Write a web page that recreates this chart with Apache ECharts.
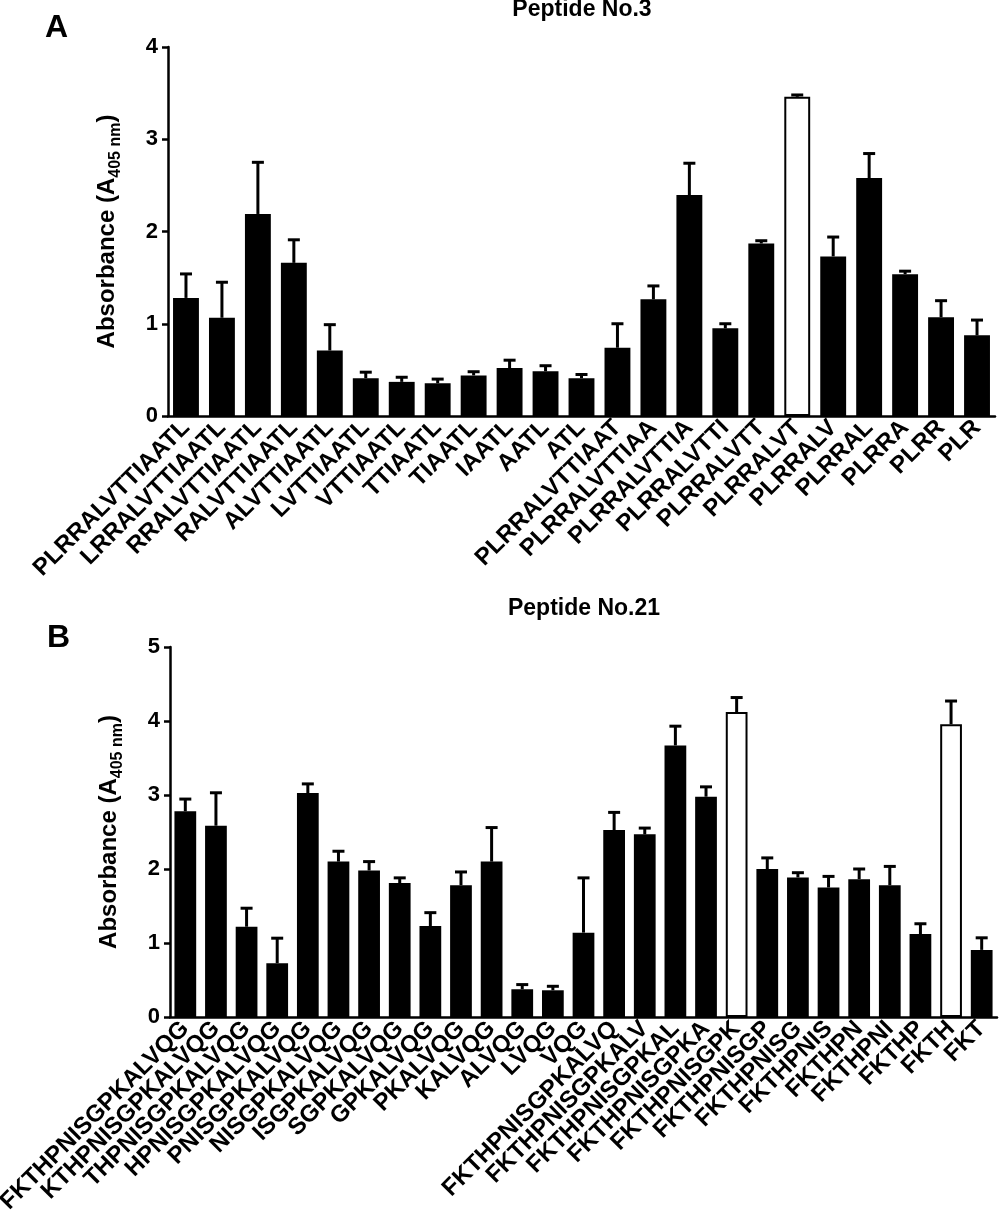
<!DOCTYPE html>
<html lang="en">
<head>
    <meta charset="UTF-8">
    <title>Peptide absorbance</title>
    <script src="https://cdn.jsdelivr.net/npm/echarts@6.0.0/dist/echarts.min.js"></script>
    <style>
        html, body { margin: 0; padding: 0; background: #fff; }
        #chart { width: 1000px; height: 1221px; }
    </style>
</head>
<body>
    <div id="chart"></div>
    <script>
        // Panel A - Peptide No.3
        const labelsA = ['PLRRALVTTIAATL', 'LRRALVTTIAATL', 'RRALVTTIAATL', 'RALVTTIAATL', 'ALVTTIAATL',
            'LVTTIAATL', 'VTTIAATL', 'TTIAATL', 'TIAATL', 'IAATL', 'AATL', 'ATL',
            'PLRRALVTTIAAT', 'PLRRALVTTIAA', 'PLRRALVTTIA', 'PLRRALVTTI', 'PLRRALVTT', 'PLRRALVT',
            'PLRRALV', 'PLRRAL', 'PLRRA', 'PLRR', 'PLR'];
        const meanA = [1.28, 1.065, 2.19, 1.66, 0.71, 0.41, 0.37, 0.355, 0.44, 0.52, 0.485, 0.41,
            0.74, 1.265, 2.395, 0.95, 1.87, 3.46, 1.73, 2.58, 1.537, 1.07, 0.874];
        const sdA = [0.26, 0.385, 0.56, 0.25, 0.28, 0.065, 0.05, 0.045, 0.04, 0.085, 0.06, 0.04,
            0.26, 0.145, 0.345, 0.05, 0.03, 0.02, 0.21, 0.265, 0.033, 0.18, 0.166];
        const openA = ['PLRRALVT'];

        // Panel B - Peptide No.21
        const labelsB = ['FKTHPNISGPKALVQG', 'KTHPNISGPKALVQG', 'THPNISGPKALVQG', 'HPNISGPKALVQG',
            'PNISGPKALVQG', 'NISGPKALVQG', 'ISGPKALVQG', 'SGPKALVQG', 'GPKALVQG', 'PKALVQG',
            'KALVQG', 'ALVQG', 'LVQG', 'VQG', 'FKTHPNISGPKALVQ', 'FKTHPNISGPKALV', 'FKTHPNISGPKAL',
            'FKTHPNISGPKA', 'FKTHPNISGPK', 'FKTHPNISGP', 'FKTHPNISG', 'FKTHPNIS', 'FKTHPN',
            'FKTHPNI', 'FKTHP', 'FKTH', 'FKT'];
        const meanB = [2.78, 2.585, 1.22, 0.727, 3.027, 2.10, 1.98, 1.81, 1.23, 1.78, 2.10, 0.375,
            0.361, 1.14, 2.526, 2.468, 3.67, 2.977, 4.12, 2.0, 1.886, 1.75, 1.863, 1.78, 1.12, 3.956, 0.907];
        const sdB = [0.165, 0.445, 0.25, 0.338, 0.123, 0.14, 0.12, 0.07, 0.18, 0.18, 0.46, 0.063,
            0.054, 0.74, 0.239, 0.085, 0.26, 0.133, 0.197, 0.15, 0.064, 0.15, 0.137, 0.255, 0.14, 0.314, 0.163];
        const openB = ['FKTHPNISGPK', 'FKTH'];

        const FONT = 'Arial, "Liberation Sans", sans-serif';
        const chart = echarts.init(document.getElementById('chart'));

        function barData(labels, means, open) {
            return means.map((v, i) => ({
                value: v,
                itemStyle: open.includes(labels[i])
                    ? { color: '#fff', borderColor: '#000', borderWidth: 2 }
                    : { color: '#000', borderColor: '#000', borderWidth: 0 }
            }));
        }

        // error bar: only the upper half, with a cap
        function renderErr(params, api) {
            const idx = api.value(0);
            const p0 = api.coord([idx, api.value(1)]);
            const p1 = api.coord([idx, api.value(1) + api.value(2)]);
            const half = 6;
            const st = { stroke: '#000', lineWidth: 3 };
            return {
                type: 'group',
                children: [
                    { type: 'line', shape: { x1: p0[0], y1: p0[1], x2: p1[0], y2: p1[1] }, style: st },
                    { type: 'line', shape: { x1: p1[0] - half, y1: p1[1], x2: p1[0] + half, y2: p1[1] }, style: st }
                ]
            };
        }

        function xAxisFor(labels, gridIndex) {
            return {
                type: 'category',
                gridIndex: gridIndex,
                data: labels,
                axisLine: { lineStyle: { color: '#000', width: 2.5 } },
                axisTick: { alignWithLabel: true, length: 6, lineStyle: { color: '#000', width: 2.5 } },
                axisLabel: {
                    interval: 0, rotate: 45, margin: 8,
                    color: '#000', fontSize: 24, fontWeight: 'bold', fontFamily: FONT
                }
            };
        }

        function yAxisFor(max, gridIndex) {
            return {
                type: 'value',
                gridIndex: gridIndex,
                min: 0, max: max, interval: 1,
                splitLine: { show: false },
                axisLine: { show: true, lineStyle: { color: '#000', width: 2.5 } },
                axisTick: { show: true, length: 6, lineStyle: { color: '#000', width: 2.5 } },
                axisLabel: { margin: 10, color: '#000', fontSize: 22, fontWeight: 'bold', fontFamily: FONT },
                name: '{a|Absorbance (A}{s|405 nm}{a|)}',
                nameLocation: 'middle',
                nameRotate: 90,
                nameGap: 44,
                nameTextStyle: {
                    rich: {
                        a: { fontSize: 24, fontWeight: 'bold', fontFamily: FONT, color: '#000',
                             verticalAlign: 'bottom', padding: [0, 0, 5, 0] },
                        s: { fontSize: 16, fontWeight: 'bold', fontFamily: FONT, color: '#000',
                             verticalAlign: 'bottom' }
                    }
                }
            };
        }

        const option = {
            animation: false,
            backgroundColor: '#fff',
            grid: [
                { left: 168, right: 5, top: 47, height: 369, containLabel: false, outerBoundsMode: 'none' },
                { left: 170, right: 3, top: 647, height: 370, containLabel: false, outerBoundsMode: 'none' }
            ],
            xAxis: [xAxisFor(labelsA, 0), xAxisFor(labelsB, 1)],
            yAxis: [yAxisFor(4, 0), yAxisFor(5, 1)],
            graphic: [
                { type: 'text', left: 45, top: 12, style: { text: 'A', font: 'bold 32px ' + FONT, fill: '#000' } },
                { type: 'text', left: 47, top: 622, style: { text: 'B', font: 'bold 32px ' + FONT, fill: '#000' } },
                { type: 'text', x: 582, y: -2, style: { text: 'Peptide No.3', font: 'bold 23px ' + FONT, fill: '#000', textAlign: 'center', textVerticalAlign: 'top' } },
                { type: 'text', x: 584, y: 597, style: { text: 'Peptide No.21', font: 'bold 23px ' + FONT, fill: '#000', textAlign: 'center', textVerticalAlign: 'top' } }
            ],
            series: [
                {
                    type: 'bar', xAxisIndex: 0, yAxisIndex: 0,
                    barWidth: '72%',
                    data: barData(labelsA, meanA, openA)
                },
                {
                    type: 'custom', xAxisIndex: 0, yAxisIndex: 0, z: 3,
                    renderItem: renderErr,
                    data: meanA.map((v, i) => [i, v, sdA[i]])
                },
                {
                    type: 'bar', xAxisIndex: 1, yAxisIndex: 1,
                    barWidth: '71%',
                    data: barData(labelsB, meanB, openB)
                },
                {
                    type: 'custom', xAxisIndex: 1, yAxisIndex: 1, z: 3,
                    renderItem: renderErr,
                    data: meanB.map((v, i) => [i, v, sdB[i]])
                }
            ]
        };

        chart.setOption(option);
    </script>
</body>
</html>
